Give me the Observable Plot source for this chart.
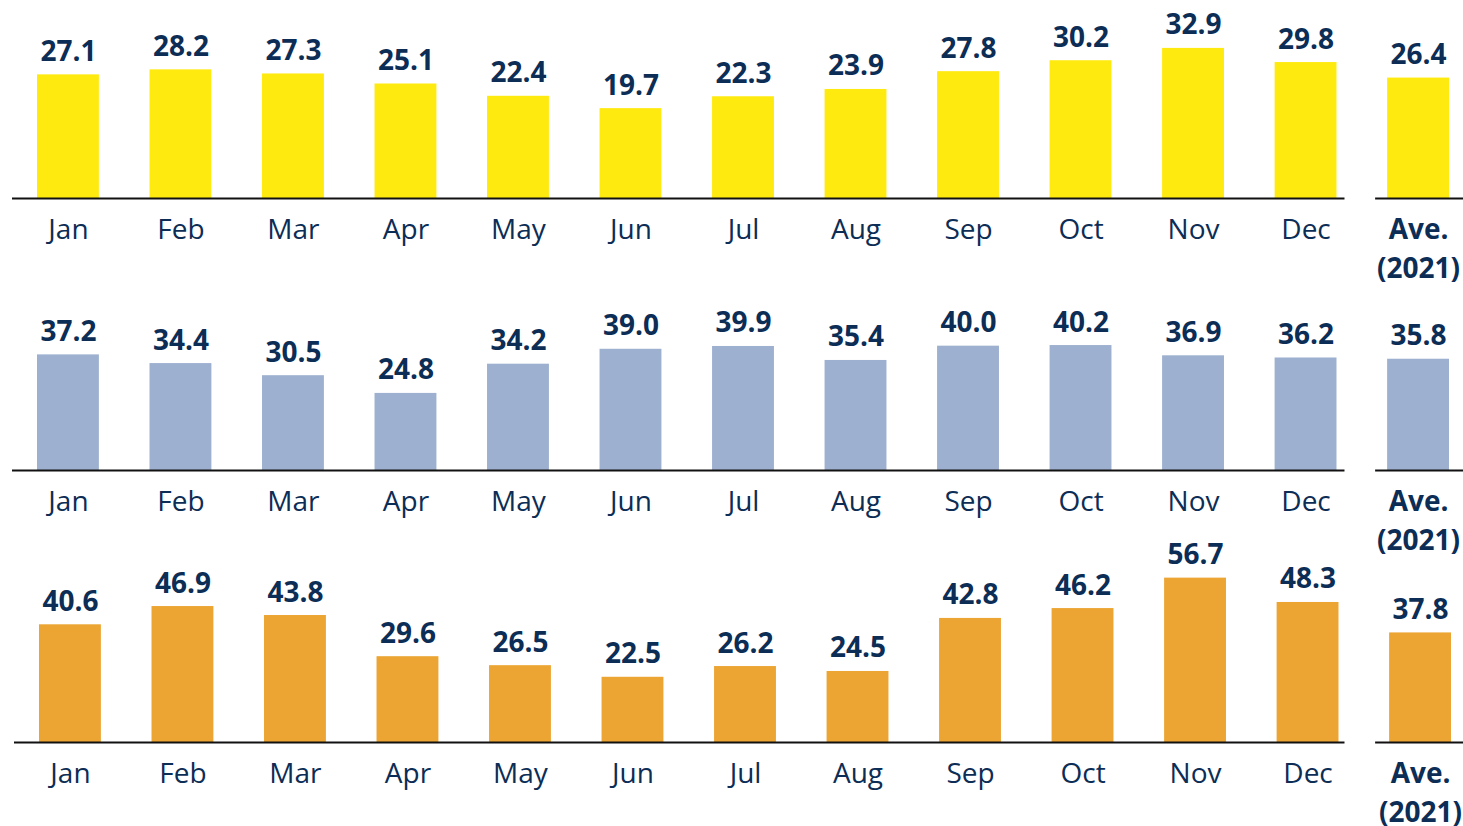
<!DOCTYPE html>
<html>
<head>
<meta charset="utf-8">
<script src="https://cdn.jsdelivr.net/npm/d3@7"></script>
<script src="https://cdn.jsdelivr.net/npm/@observablehq/plot@0.6"></script>
<style>
  html, body { margin: 0; padding: 0; background: #fff; }
  #chart svg { display: block; overflow: visible; }
</style>
</head>
<body>
<div id="chart"></div>
<script>
const months = ["Jan","Feb","Mar","Apr","May","Jun","Jul","Aug","Sep","Oct","Nov","Dec"];
const aveKey = "Ave.";
const aveLabel = "Ave.\n(2021)";

const series1 = [27.1, 28.2, 27.3, 25.1, 22.4, 19.7, 22.3, 23.9, 27.8, 30.2, 32.9, 29.8];
const ave1 = 26.4;
const series2 = [37.2, 34.4, 30.5, 24.8, 34.2, 39.0, 39.9, 35.4, 40.0, 40.2, 36.9, 36.2];
const ave2 = 35.8;
const series3 = [40.6, 46.9, 43.8, 29.6, 26.5, 22.5, 26.2, 24.5, 42.8, 46.2, 56.7, 48.3];
const ave3 = 37.8;

const colors = ["#FFEA10", "#9DB0CF", "#ECA533"];
const yMax = [43.4, 63.7, 68.3];
const textColor = "#0C2D55";
const font = "'Open Sans', sans-serif";

function panel(values, ave, color, ymax, opts) {
  const data = months.map((m, i) => ({cat: m, v: values[i]}));
  data.push({cat: aveKey, v: ave});
  const mainSeg = [{a: "Jan", b: "Dec", v: 0}];
  const aveSeg = [{a: aveKey, b: aveKey, v: 0}];
  return Plot.plot({
    width: 1463,
    height: opts.height,
    marginLeft: opts.ml,
    marginRight: opts.mr,
    marginTop: 0,
    marginBottom: opts.height - 198,
    style: {fontFamily: font, background: "#fff"},
    x: {domain: [...months, aveKey], paddingInner: 0.45, paddingOuter: 0, round: false, axis: null},
    y: {domain: [0, ymax], axis: null},
    marks: [
      Plot.barY(data, {x: "cat", y: "v", fill: color}),
      Plot.ruleY(mainSeg, {x1: "a", x2: "b", y: "v", stroke: "#111", strokeWidth: 2, insetLeft: -25, insetRight: opts.mainR}),
      Plot.ruleY(aveSeg, {x1: "a", x2: "b", y: "v", stroke: "#111", strokeWidth: 2, insetLeft: opts.aveL, insetRight: opts.aveR}),
      Plot.text(data, {x: "cat", y: "v", text: d => d.v.toFixed(1), lineAnchor: "bottom", dy: -14, fill: textColor, fontWeight: "bold", fontSize: 28}),
      Plot.axisX(months, {tickSize: 0, tickPadding: 21, fontSize: 28, color: textColor, fill: textColor, label: null}),
      Plot.axisX([aveKey], {tickSize: 0, tickPadding: 13, fontSize: 28, fontWeight: "bold", color: textColor, fill: textColor, lineHeight: 1.38, tickFormat: () => aveLabel, label: null})
    ]
  });
}

const chart = document.getElementById("chart");
chart.append(panel(series1, ave1, colors[0], yMax[0], {height: 272, ml: 37, mr: 14, mainR: -8, aveL: -12, aveR: -14}));
chart.append(panel(series2, ave2, colors[1], yMax[1], {height: 272, ml: 37, mr: 14, mainR: -8, aveL: -12, aveR: -14}));
chart.append(panel(series3, ave3, colors[2], yMax[2], {height: 282, ml: 39, mr: 12, mainR: -6, aveL: -14, aveR: -12}));
</script>
</body>
</html>
